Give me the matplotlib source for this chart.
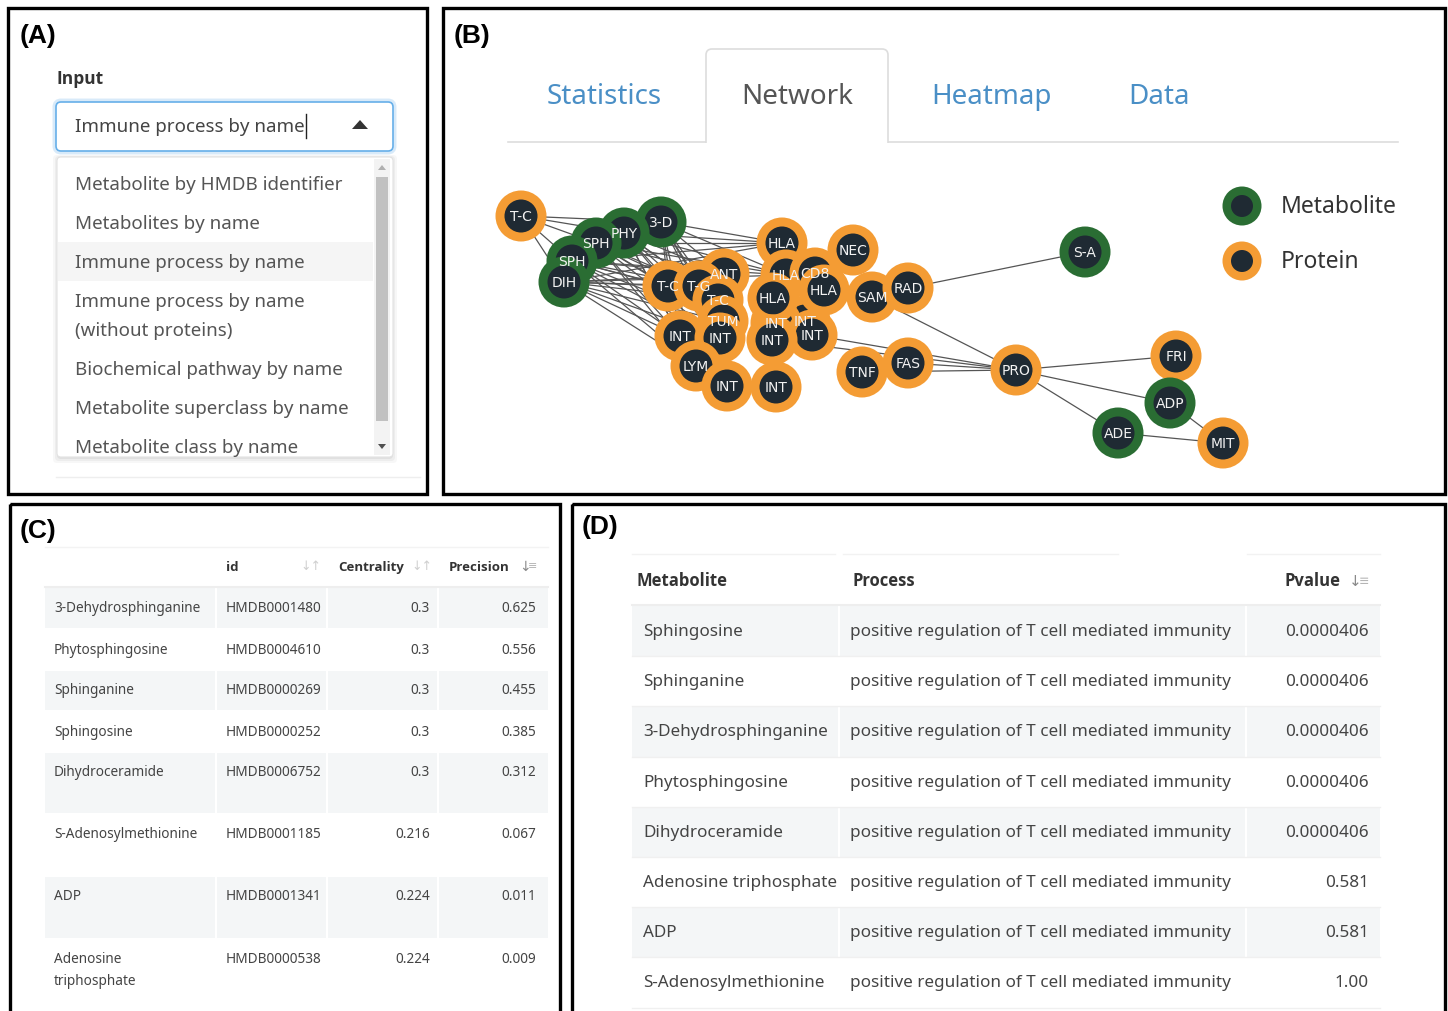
import matplotlib
matplotlib.use("Agg")
import matplotlib.pyplot as plt
from matplotlib.patches import Rectangle, FancyBboxPatch, Circle, Polygon

plt.rcParams["font.family"] = ["Noto Sans", "DejaVu Sans"]

# ---------------- data ----------------
input_value = "Immune process by name"
dropdown_options = [
    "Metabolite by HMDB identifier",
    "Metabolites by name",
    "Immune process by name",
    "Immune process by name\n(without proteins)",
    "Biochemical pathway by name",
    "Metabolite superclass by name",
    "Metabolite class by name",
]
selected_option = 2

tabs = ["Statistics", "Network", "Heatmap", "Data"]
active_tab = "Network"

# network nodes (layout coordinates of the rendered graph)
node_id = ["tc0", "m3d", "phy", "sph1", "sph2", "dih",
           "ant", "tc1", "hla0", "nec", "hla1", "cd8", "tg", "tc2",
           "int5", "int4", "tum", "hla2", "hla3", "sam", "rad",
           "int0", "int6", "int1", "int2", "lym", "int3", "int7", "tnf", "fas",
           "sa", "pro", "fri", "adp", "ade", "mit"]
node_label = ["T-C", "3-D", "PHY", "SPH", "SPH", "DIH",
              "ANT", "T-C", "HLA", "NEC", "HLA", "CD8", "T-G", "T-C",
              "INT", "INT", "TUM", "HLA", "HLA", "SAM", "RAD",
              "INT", "INT", "INT", "INT", "LYM", "INT", "INT", "TNF", "FAS",
              "S-A", "PRO", "FRI", "ADP", "ADE", "MIT"]
node_kind = ["P", "M", "M", "M", "M", "M",
             "P", "P", "P", "P", "P", "P", "P", "P",
             "P", "P", "P", "P", "P", "P", "P",
             "P", "P", "P", "P", "P", "P", "P", "P", "P",
             "M", "P", "P", "M", "M", "P"]
node_x = [521, 661, 624, 596, 572, 564,
          724, 668, 782, 853, 786, 815, 699, 718,
          805, 776, 723, 773, 824, 872, 908,
          680, 812, 720, 772, 696, 727, 776, 862, 908,
          1085, 1016, 1176, 1170, 1118, 1223]
node_y = [217, 223, 234, 244, 262, 283,
          275, 287, 244, 251, 276, 274, 287, 301,
          322, 324, 322, 299, 291, 298, 289,
          337, 336, 339, 341, 367, 387, 388, 373, 364,
          253, 371, 357, 404, 434, 444]

sphingo = ["m3d", "phy", "sph1", "sph2", "dih"]
sphingo_targets = ["tc1", "tg", "tc2", "ant", "hla0", "hla1", "int0", "int1", "tum", "lym"]
edges = [("tc0", m) for m in sphingo]
edges += [(m, p) for m in sphingo for p in sphingo_targets]
edges += [("rad", "sa"), ("sam", "pro"), ("fas", "pro"), ("tnf", "pro"),
          ("int6", "pro"), ("int2", "pro"), ("pro", "fri"), ("pro", "adp"),
          ("pro", "ade"), ("adp", "mit"), ("ade", "mit"), ("int7", "int3")]

c_names = ["3-Dehydrosphinganine", "Phytosphingosine", "Sphinganine", "Sphingosine",
           "Dihydroceramide", "S-Adenosylmethionine", "ADP", "Adenosine\ntriphosphate"]
c_ids = ["HMDB0001480", "HMDB0004610", "HMDB0000269", "HMDB0000252",
         "HMDB0006752", "HMDB0001185", "HMDB0001341", "HMDB0000538"]
c_centrality = [0.3, 0.3, 0.3, 0.3, 0.3, 0.216, 0.224, 0.224]
c_precision = [0.625, 0.556, 0.455, 0.385, 0.312, 0.067, 0.011, 0.009]

d_metabolites = ["Sphingosine", "Sphinganine", "3-Dehydrosphinganine", "Phytosphingosine",
                 "Dihydroceramide", "Adenosine triphosphate", "ADP", "S-Adenosylmethionine"]
d_process = ["positive regulation of T cell mediated immunity"] * 8
d_pvalues = [0.0000406, 0.0000406, 0.0000406, 0.0000406, 0.0000406, 0.581, 0.581, 1.00]

# ---------------- style ----------------
ORANGE = "#f49c34"
GREEN = "#2a6d33"
INNER = "#1f2a33"
LINK = "#4a8fc6"
STRIPE = "#f4f6f7"
HEAD = ["Liberation Sans", "DejaVu Sans"]
BOLD = ["Open Sans", "Liberation Sans", "DejaVu Sans"]
NODEF = ["DejaVu Sans"]

fig = plt.figure(figsize=(14.48, 10.12), dpi=100)
ax = fig.add_axes([0, 0, 1, 1])
ax.set_xlim(0, 1448)
ax.set_ylim(1012, 0)
ax.axis("off")


def txt(x, y, s, size, **kw):
    kw.setdefault("va", "center")
    kw.setdefault("color", "#333333")
    return ax.text(x, y, s, fontsize=size, **kw)


# panel frames
for (x0, y0, x1, y1) in [(8, 9, 427, 495), (443, 9, 1445, 495),
                         (10, 505, 560, 1020), (572, 505, 1445, 1020)]:
    ax.add_patch(Rectangle((x0, y0), x1 - x0, y1 - y0, fill=False,
                           ec="black", lw=2.4, zorder=10))
for lab, x, y in [("(A)", 20, 36), ("(B)", 454, 36), ("(C)", 20, 531), ("(D)", 582, 527)]:
    txt(x, y, lab, 19, family=HEAD, weight="bold", color="black", zorder=11)

# ---------------- panel A ----------------
txt(56, 79, "Input", 12.5, family=BOLD, weight="bold", color="#333333")
ax.add_patch(FancyBboxPatch((56, 103), 337, 49, boxstyle="round,pad=0,rounding_size=5",
                            fc="none", ec="#66afe9", lw=5, alpha=0.25))
ax.add_patch(FancyBboxPatch((56, 103), 337, 49, boxstyle="round,pad=0,rounding_size=5",
                            fc="white", ec="#66afe9", lw=1.2))
t_in = txt(75, 127, input_value, 13.5, color="#444444")
fig.canvas.draw()
bb = t_in.get_window_extent()
xe = ax.transData.inverted().transform((bb.x1, 0))[0]
ax.plot([xe + 1, xe + 1], [115, 139], color="#222222", lw=1)
ax.add_patch(Polygon([(352, 130), (368, 130), (360, 121)], closed=True, fc="#333333", ec="none"))

# dropdown with soft shadow
for k, a in enumerate([0.05, 0.04, 0.03]):
    ax.add_patch(FancyBboxPatch((57 - k * 2, 158 - k), 336 + k * 4, 300 + k * 3 + 2,
                                boxstyle="round,pad=0,rounding_size=4",
                                fc="black", ec="none", alpha=a))
dd = FancyBboxPatch((57, 158), 336, 300, boxstyle="round,pad=0,rounding_size=4",
                    fc="white", ec="#e2e2e2", lw=0.8)
ax.add_patch(dd)
y = 185
for i, opt in enumerate(dropdown_options):
    lines = opt.split("\n")
    if i == selected_option:
        ax.add_patch(Rectangle((58, y - 20), 315, 39, fc="#f5f5f5", ec="none"))
    for j, line in enumerate(lines):
        t = txt(75, y + 29 * j, line, 13.5, color="#555555")
        t.set_clip_path(dd)
    y += 39 + 29 * (len(lines) - 1)
ax.add_patch(Rectangle((374, 160), 16, 296, fc="#f3f3f3", ec="none"))
ax.add_patch(Rectangle((376, 178), 12, 244, fc="#c1c1c1", ec="none"))
ax.add_patch(Polygon([(378, 171), (386, 171), (382, 166)], fc="#b0b0b0", ec="none"))
ax.add_patch(Polygon([(378, 445), (386, 445), (382, 450)], fc="#505050", ec="none"))
ax.plot([56, 420], [478, 478], color="#eeeeee", lw=1)

# ---------------- panel B ----------------
ax.plot([508, 1398], [143, 143], color="#dddddd", lw=1.2, zorder=1)
ax.add_patch(FancyBboxPatch((706, 50), 182, 110, boxstyle="round,pad=0,rounding_size=6",
                            fc="white", ec="#dddddd", lw=1.2, zorder=1.5))
ax.add_patch(Rectangle((707.5, 141.5), 179, 20, fc="white", ec="none", zorder=1.6))
ax.add_patch(Rectangle((702, 144), 190, 20, fc="white", ec="none", zorder=1.6))
tab_x = [604, 797, 991, 1159]
for name, x in zip(tabs, tab_x):
    txt(x, 97, name, 20, ha="center",
        color="#555555" if name == active_tab else LINK, zorder=2)

pos = {n: (x, y) for n, x, y in zip(node_id, node_x, node_y)}
for a, b in edges:
    (xa, ya), (xb, yb) = pos[a], pos[b]
    ax.plot([xa, xb], [ya, yb], color="#555555", lw=0.9, zorder=2)
for i, (x, y) in enumerate(zip(node_x, node_y)):
    ring = ORANGE if node_kind[i] == "P" else GREEN
    ax.add_patch(Circle((x, y), 25.5, fc=ring, ec="none", zorder=3 + i * 0.01))
    ax.add_patch(Circle((x, y), 16.5, fc=INNER, ec="none", zorder=3.005 + i * 0.01))
for lab, x, y in zip(node_label, node_x, node_y):
    txt(x, y, lab, 10, ha="center", family=NODEF, color="#f2f2f2", zorder=5)

for kind, lab, y in [("M", "Metabolite", 207), ("P", "Protein", 262)]:
    ax.add_patch(Circle((1242, y), 19.5, fc=GREEN if kind == "M" else ORANGE, ec="none"))
    ax.add_patch(Circle((1242, y), 11, fc=INNER, ec="none"))
    txt(1281, y, lab, 16.5, color="#333333")

# ---------------- panel C ----------------
c_cols = [45, 216, 327, 438, 548]
c_tops = [589, 630, 671, 712, 753, 815, 877, 940]
c_heights = [41, 41, 41, 41, 62, 62, 63, 63]
for i, (top, h) in enumerate(zip(c_tops, c_heights)):
    if i % 2 == 0:
        ax.add_patch(Rectangle((c_cols[0], top), c_cols[-1] - c_cols[0], h, fc=STRIPE, ec="none"))
    ax.plot([c_cols[0], c_cols[-1]], [top + h, top + h], color="white", lw=1.5)
for x in c_cols[1:-1]:
    ax.plot([x, x], [548, 1003], color="white", lw=1.5, zorder=1.2)
ax.plot([c_cols[0], c_cols[-1]], [588, 588], color="#eeeeee", lw=1.5)
ax.plot([c_cols[0], c_cols[-1]], [548, 548], color="#f3f3f3", lw=1)

for x, h in [(226, "id"), (338, "Centrality"), (449, "Precision")]:
    txt(x, 571, h, 9.5, family=BOLD, weight="bold", va="baseline")
for x in [311, 422]:
    txt(x, 567, "↓↑", 9, ha="center", family=NODEF, color="#cfcfcf")
txt(525, 567, "↓", 10, ha="center", family=NODEF, color="#8a8a8a")
txt(533, 566, "≡", 8, ha="center", family=NODEF, color="#b5b5b5")

for i, top in enumerate(c_tops):
    yy = top + 20
    for j, line in enumerate(c_names[i].split("\n")):
        txt(54, yy + 22 * j, line, 9.8, color="#444444")
    txt(226, yy, c_ids[i], 9.8, color="#444444")
    txt(430, yy, f"{c_centrality[i]:g}", 9.8, ha="right", color="#444444")
    txt(536, yy, f"{c_precision[i]:g}", 9.8, ha="right", color="#444444")

# ---------------- panel D ----------------
d_cols = [632, 839, 1246, 1380]
d_row_h = 50.2
d_top = 607
for i in range(len(d_metabolites)):
    top = d_top + i * d_row_h
    if i % 2 == 0:
        ax.add_patch(Rectangle((d_cols[0], top), d_cols[-1] - d_cols[0], d_row_h,
                               fc=STRIPE, ec="none"))
    ax.plot([d_cols[0], d_cols[-1]], [top + d_row_h, top + d_row_h], color="#f0f0f0", lw=1)
for x in d_cols[1:-1]:
    ax.plot([x, x], [555, 1010], color="white", lw=1.5, zorder=1.2)
ax.plot([d_cols[0], d_cols[-1]], [606, 606], color="#eeeeee", lw=1.5)
for x0, x1 in [(632, 835), (843, 1118), (1247, 1380)]:
    ax.plot([x0, x1], [555, 555], color="#f2f2f2", lw=1)

txt(637, 586, "Metabolite", 12, family=BOLD, weight="bold", va="baseline")
txt(852, 586, "Process", 12, family=BOLD, weight="bold", va="baseline")
txt(1340, 586, "Pvalue", 12, family=BOLD, weight="bold", ha="right", va="baseline")
txt(1355, 581, "↓", 11, ha="center", family=NODEF, color="#8a8a8a")
txt(1364, 581, "≡", 9, ha="center", family=NODEF, color="#b5b5b5")


def fmt_p(v):
    return f"{v:.7f}" if v < 0.001 else format(v, "#.3g")


for i in range(len(d_metabolites)):
    yy = d_top + i * d_row_h + 25
    txt(643, yy, d_metabolites[i], 12.3, color="#444444")
    txt(850, yy, d_process[i], 12.3, color="#444444")
    txt(1369, yy, fmt_p(d_pvalues[i]), 12.3, ha="right", color="#444444")

fig.savefig("out.png", dpi=100)
